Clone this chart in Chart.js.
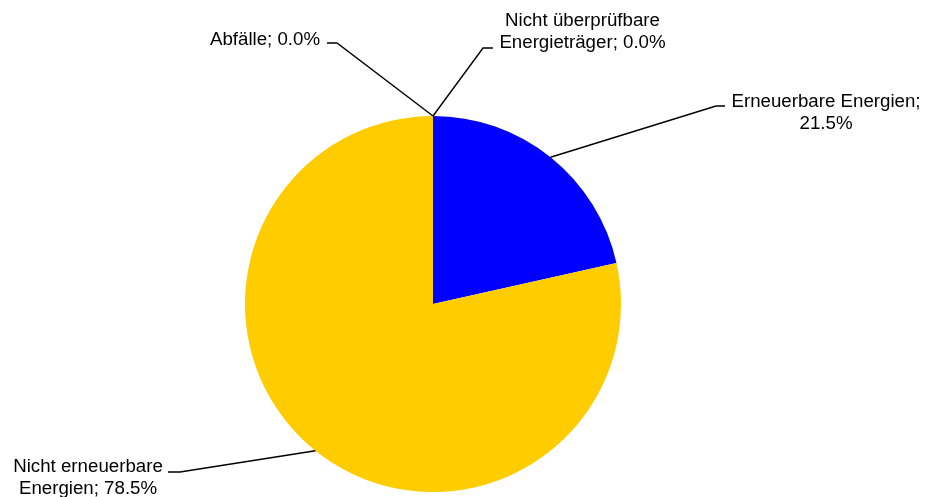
<!DOCTYPE html>
<html><head><meta charset="utf-8">
<script src="https://cdn.jsdelivr.net/npm/chart.js@4"></script>
<style>html,body{margin:0;padding:0;background:#fff;overflow:hidden}</style>
</head><body>
<canvas id="c" width="927" height="497"></canvas>
<script>
const categories = ['Erneuerbare Energien', 'Nicht erneuerbare Energien', 'Abfälle', 'Nicht überprüfbare Energieträger'];
const shares = [21.5, 78.5, 0.0, 0.0];
const colors = ['#0000FF', '#FFCC00', '#FFCC00', '#0000FF'];

// label layout: offsets from the pie centre (px)
const labelLayout = [
  {elbow:[283,-198], end:[292,-198], text:[393,-202]},
  {elbow:[-253,168], end:[-265,168], text:[-345,163]},
  {elbow:[-96,-261], end:[-106,-261], text:[-168,-264]},
  {elbow:[50,-256], end:[60,-256], text:[149.5,-283]}
];

const FONT = '18.7px "Liberation Sans", Arial, sans-serif';

function wrap(ctx, text, maxW){
  const words = text.split(' ');
  const lines = []; let cur = '';
  for (const w of words){
    const t = cur ? cur + ' ' + w : w;
    if (cur && ctx.measureText(t).width > maxW){ lines.push(cur); cur = w; }
    else cur = t;
  }
  if (cur) lines.push(cur);
  return lines;
}

const labelPlugin = {
  id: 'leaderLabels',
  afterDraw(chart){
    const ctx = chart.ctx;
    const meta = chart.getDatasetMeta(0);
    ctx.save();
    ctx.font = FONT;
    ctx.fillStyle = '#000';
    ctx.strokeStyle = '#000';
    ctx.lineWidth = 1.4;
    ctx.textAlign = 'center';
    ctx.textBaseline = 'middle';
    meta.data.forEach((arc, i) => {
      const p = arc.getProps(['x','y','startAngle','endAngle','outerRadius'], true);
      const mid = (p.startAngle + p.endAngle) / 2;
      const sx = p.x + Math.cos(mid) * p.outerRadius;
      const sy = p.y + Math.sin(mid) * p.outerRadius;
      const L = labelLayout[i];
      ctx.beginPath();
      ctx.moveTo(sx, sy);
      ctx.lineTo(p.x + L.elbow[0], p.y + L.elbow[1]);
      ctx.lineTo(p.x + L.end[0], p.y + L.end[1]);
      ctx.stroke();
      const txt = categories[i] + '; ' + shares[i].toFixed(1) + '%';
      const lines = wrap(ctx, txt, 200);
      lines.forEach((ln, k) => {
        ctx.fillText(ln, p.x + L.text[0], p.y + L.text[1] + k * 22);
      });
    });
    ctx.restore();
  }
};

new Chart(document.getElementById('c'), {
  type: 'pie',
  data: {
    labels: categories,
    datasets: [{
      data: shares,
      backgroundColor: colors,
      borderWidth: 0
    }]
  },
  options: {
    responsive: false,
    animation: false,
    layout: { padding: { top: 116, bottom: 5, left: 245, right: 306 } },
    plugins: { legend: { display: false }, tooltip: { enabled: false } }
  },
  plugins: [labelPlugin]
});
</script>
</body></html>
